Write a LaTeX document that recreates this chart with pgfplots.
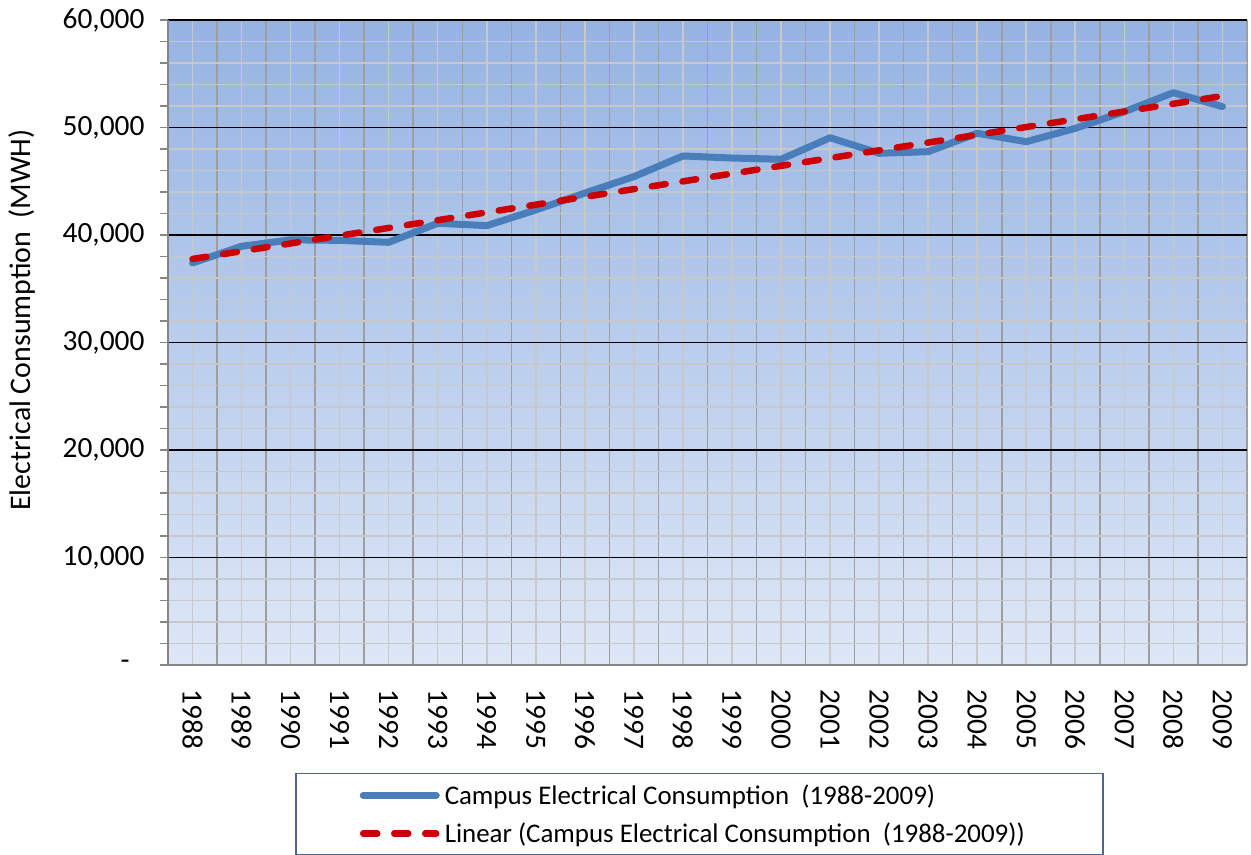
\documentclass[border=0pt]{standalone}
\usepackage{fontspec}
\setmainfont{Carlito}
\usepackage{pgfplots}
\usepackage{pgfplotstable}
\pgfplotsset{compat=1.18}
\definecolor{bgtop}{RGB}{149,179,227}
\definecolor{bgbot}{RGB}{222,231,246}
\definecolor{serblue}{RGB}{74,126,187}
\definecolor{trendred}{RGB}{204,0,0}
\definecolor{legborder}{RGB}{80,100,140}
\definecolor{axisgray}{RGB}{134,134,134}
\definecolor{gridlight}{RGB}{200,200,200}
\definecolor{griddark}{RGB}{158,158,158}

\pgfplotstableread{
year value
1988 37400
1989 38950
1990 39550
1991 39500
1992 39320
1993 41090
1994 40870
1995 42330
1996 43900
1997 45430
1998 47350
1999 47160
2000 47040
2001 49050
2002 47600
2003 47750
2004 49460
2005 48680
2006 49920
2007 51470
2008 53240
2009 51940
}\consumption

\pgfplotstableread{
year value
1988 37770
2009 52930
}\trend

\begin{document}
\begin{tikzpicture}
\begin{axis}[
  at={(168bp,190bp)}, anchor=south west,
  scale only axis, width=1079bp, height=645bp,
  xmin=1987.5, xmax=2009.5, ymin=0, ymax=60000,
  axis lines=left,
  axis line style={-, axisgray, line width=1.5bp},
  axis background/.style={top color=bgtop, bottom color=bgbot},
  xtick={1988,1989,...,2009},
  minor xtick={1987.5,1988.5,...,2009.5},
  ytick={0,10000,...,60000},
  scaled y ticks=false,
  yticklabels={{-\hphantom{0}},{10,000},{20,000},{30,000},{40,000},{50,000},{60,000}},
  minor y tick num=4,
  grid=both,
  major x grid style={gridlight, line width=1.5bp},
  minor x grid style={griddark, line width=1.5bp},
  major y grid style={black, line width=1.8bp},
  minor y grid style={gridlight, line width=1.5bp},
  tick align=outside,
  major tick length=8bp, minor tick length=8bp,
  every x tick/.append style={draw=none},
  every major x tick/.append style={draw=none},
  every minor x tick/.append style={draw=none},
  every y tick/.append style={axisgray, line width=1.5bp},
  /pgf/number format/assume math mode=true,
  xticklabel style={rotate=-90, anchor=west, /pgf/number format/1000 sep={}},
  tick label style={font=\fontsize{29.5}{34}\selectfont, text=black},
  xticklabel shift={13bp},
  yticklabel shift={12bp},
  ylabel={Electrical Consumption\ \ (MWH)},
  ylabel style={at={(axis description cs:-0.1353,0.535)}, anchor=center, font=\fontsize{30}{35}\selectfont},
  legend style={at={(axis description cs:0.1177,-0.1674)}, anchor=north west,
    draw=legborder, line width=1.5bp, inner xsep=64bp, inner ysep=11bp,
    row sep=17bp, column sep=5bp,
    nodes={inner sep=0pt},
    font=\fontsize{27}{32}\selectfont},
  legend cell align=left,
  legend image code/.code={\draw[#1] (0bp,0bp) -- (73bp,0bp);},
]
\addplot[serblue, line width=7bp, line join=round, line cap=round] table[x=year,y=value] {\consumption};
\addlegendentry{Campus Electrical Consumption\ \ (1988-2009)}
\addplot[trendred, line width=6.5bp, dash pattern=on 14bp off 17bp, line cap=round] table[x=year,y=value] {\trend};
\addlegendentry{Linear (Campus Electrical Consumption\ \ (1988-2009))\rule{14bp}{0bp}}
\end{axis}
\pgfresetboundingbox
\path[use as bounding box] (0bp,0bp) rectangle (1251bp,855bp);
\end{tikzpicture}
\end{document}
